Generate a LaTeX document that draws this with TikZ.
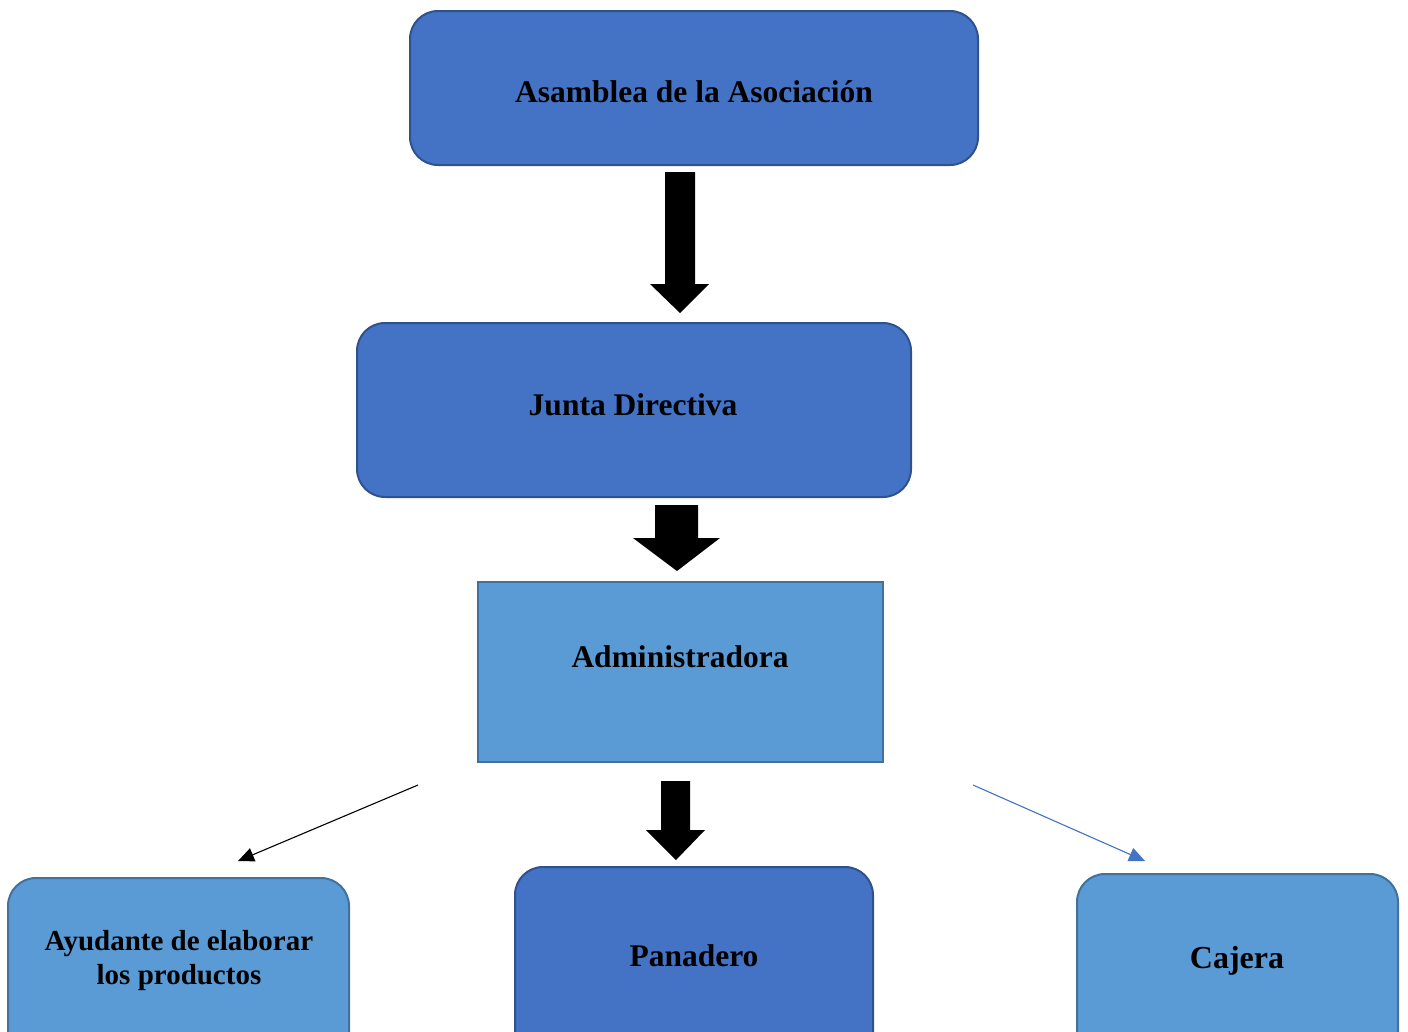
\documentclass[tikz,border=0pt]{standalone}
\usepackage{fontspec}
\setmainfont{Liberation Serif}
\usetikzlibrary{arrows.meta}
\definecolor{darkblue}{HTML}{4472C4}
\definecolor{darkedge}{HTML}{2F528F}
\definecolor{lightblue}{HTML}{5B9BD5}
\definecolor{lightedge}{HTML}{41719C}
\tikzset{
  box/.style={line width=2pt, rounded corners=#1},
  darkbox/.style={box=28pt, fill=darkblue, draw=darkedge},
  lightbox/.style={box=28pt, fill=lightblue, draw=lightedge},
  label/.style={font=\fontsize{31.5}{36}\selectfont\bfseries, align=center, inner sep=0pt},
  blockarrow/.style={fill=black, draw=none},
  thinarrow/.style={line width=1.1pt, -{Triangle[length=16pt,width=14pt]}},
}
\begin{document}
\begin{tikzpicture}[x=1pt,y=-1pt]
\useasboundingbox (0,0) rectangle (1408,1031);
\clip (0,0) rectangle (1408,1031);
\fill[white] (0,0) rectangle (1408,1031);
% boxes
\draw[darkbox] (410,11) rectangle (978,165);
\node[label] (asamblea) at (694,92) {Asamblea de la Asociación};
\draw[darkbox] (357,323) rectangle (911,497);
\node[label] (junta) at (633,405) {Junta Directiva};
\draw[fill=lightblue, draw=lightedge, line width=2pt] (478,582) rectangle (883,762);
\node[label] (admin) at (680,657) {Administradora};
\draw[lightbox] (8,878) rectangle (349,1080);
\node[label, font=\fontsize{29}{34}\selectfont\bfseries] (ayudante) at (179,961) {Ayudante de elaborar\\los productos};
\draw[darkbox] (515,867) rectangle (873,1080);
\node[label] (panadero) at (694,956) {Panadero};
\draw[lightbox] (1077,874) rectangle (1398,1080);
\node[label, font=\fontsize{32}{36}\selectfont\bfseries] (cajera) at (1237,961) {Cajera};
% block arrows
\fill[blockarrow] (665,172) -- (695,172) -- (695,284) -- (709,284) -- (680,313) -- (650,284) -- (665,284) -- cycle;
\fill[blockarrow] (655,505) -- (698,505) -- (698,538) -- (720,538) -- (677,571) -- (633,538) -- (655,538) -- cycle;
\fill[blockarrow] (661,781) -- (690,781) -- (690,830) -- (705,830) -- (676,860) -- (646,830) -- (661,830) -- cycle;
% thin arrows
\coordinate (l1) at (418,785);
\coordinate (l2) at (238,861);
\coordinate (r1) at (973,785);
\coordinate (r2) at (1145,861);
\draw[thinarrow, black] (l1) -- (l2);
\draw[thinarrow, darkblue] (r1) -- (r2);
\end{tikzpicture}
\end{document}
